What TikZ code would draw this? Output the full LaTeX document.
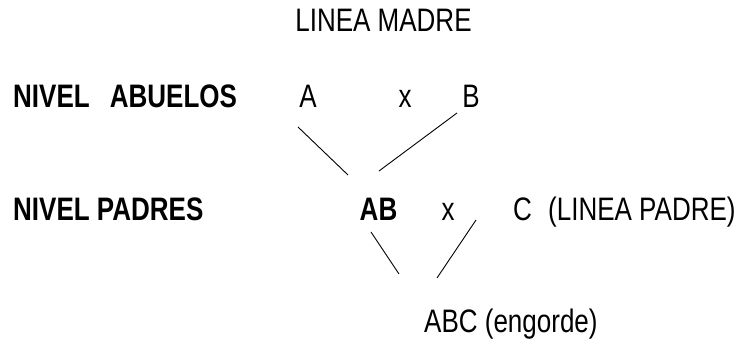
\documentclass[tikz,border=0pt]{standalone}
\usepackage{fontspec}
\setmainfont{Liberation Sans}[FakeStretch=0.80]
\begin{document}
\begin{tikzpicture}[x=1pt,y=1pt,
  lbl/.style={inner sep=0pt,font=\fontsize{32.5}{36}\selectfont},
  blbl/.style={lbl,font=\fontsize{32.5}{36}\selectfont\bfseries},
  cross/.style={line width=0.9pt}]
\useasboundingbox (0,0) rectangle (741,344);
\node[lbl,anchor=base] (madre) at (383.5,312) {LINEA MADRE};
\node[blbl,anchor=base west] (abuelos) at (13,236) {NIVEL\hspace{0.62em}ABUELOS};
\node[lbl,anchor=base] (A) at (308,236) {A};
\node[lbl,anchor=base] (x1) at (405,236) {x};
\node[lbl,anchor=base] (B) at (471,236) {B};
\node[blbl,anchor=base west] (padres) at (13,123) {NIVEL PADRES};
\node[blbl,anchor=base] (AB) at (378.5,123) {AB};
\node[lbl,anchor=base] (x2) at (448,123) {x};
\node[lbl,anchor=base west] (C) at (513,123) {C\hspace{0.5em}(LINEA PADRE)};
\node[lbl,anchor=base west] (ABC) at (424,11) {ABC (engorde)};
\coordinate (a1) at (298,217);
\coordinate (a2) at (348,169);
\coordinate (b1) at (457,231);
\coordinate (b2) at (379,173);
\coordinate (c1) at (371,112);
\coordinate (c2) at (399,70);
\coordinate (d1) at (476,124);
\coordinate (d2) at (437,66);
\draw[cross] (a1) -- (a2);
\draw[cross] (b1) -- (b2);
\draw[cross] (c1) -- (c2);
\draw[cross] (d1) -- (d2);
\end{tikzpicture}
\end{document}
